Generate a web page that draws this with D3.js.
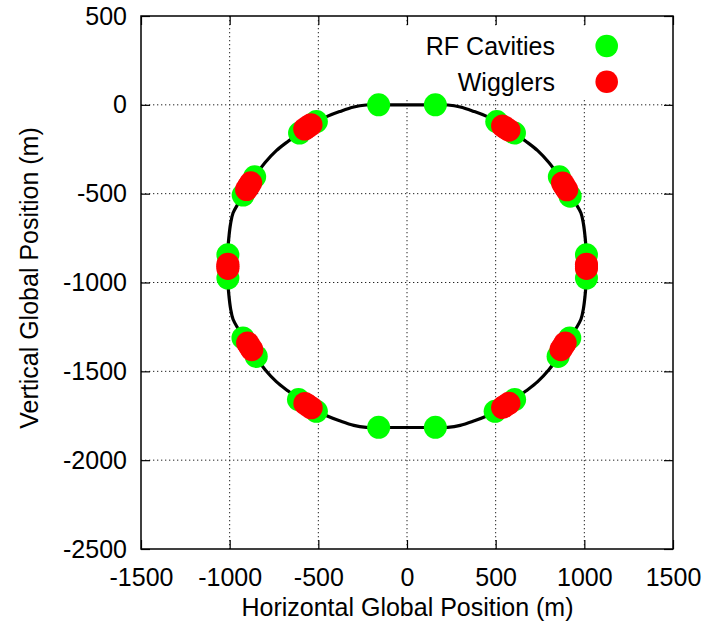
<!DOCTYPE html>
<html>
<head>
<meta charset="utf-8">
<script src="https://cdn.jsdelivr.net/npm/d3@7"></script>
<style>
  html, body { margin: 0; padding: 0; background: #fff; }
  svg { display: block; font-family: "Liberation Sans", Arial, Helvetica, sans-serif; }
</style>
</head>
<body>
<svg id="chart" width="707" height="626"></svg>
<script>
// ---- data ----
const xTicks = [-1500, -1000, -500, 0, 500, 1000, 1500];
const yTicks = [500, 0, -500, -1000, -1500, -2000, -2500];
const gridX = [-1000, -500, 0, 500, 1000];
const gridY = [0, -500, -1000, -1500, -2000];

const rfX = [-160, 160, -160, 160,
  -606, -511, 606, 506,
  -859, -924, 859, 920,
  -1010, -1010, 1012, 1012,
  -925, -850, 918, 852,
  -612, -511, 607, 497];
const rfY = [0, 0, -1815, -1815,
  -159, -94, -159, -94,
  -405, -508, -405, -514,
  -844, -975, -844, -975,
  -1312, -1416, -1312, -1416,
  -1659, -1725, -1659, -1725];

const wigX = [-577, -559, -541, 539, 557, 575,
  -905, -893, -881, 877, 889, 901,
  -1010, -1010, -1010, 1012, 1012, 1012,
  -899, -887, -875, 892, 880, 868,
  -576, -558, -540, 575, 557, 539];
const wigY = [-136, -124, -112, -119, -131, -143,
  -477, -458, -439, -440, -459, -478,
  -897, -909, -921, -897, -909, -921,
  -1340, -1359, -1378, -1340, -1359, -1378,
  -1681, -1693, -1705, -1680, -1692, -1704];

const ring = [
  [0,0],[-160,0],[-230,-1],[-300,-12],[-380,-38],[-450,-65],[-511,-94],[-560,-124],[-606,-159],
  [-670,-205],[-737,-258],[-800,-325],[-859,-405],[-893,-458],[-924,-508],[-950,-552],[-981,-609],
  [-995,-670],[-1004,-741],[-1009,-800],[-1010,-844],[-1011,-908],
  [-1010,-972],[-1009,-1016],[-1004,-1075],[-995,-1146],[-981,-1207],[-950,-1264],[-924,-1308],
  [-893,-1358],[-859,-1411],[-800,-1491],[-737,-1558],[-670,-1611],[-606,-1657],[-560,-1692],
  [-511,-1722],[-450,-1751],[-380,-1778],[-300,-1804],[-230,-1815],[-160,-1816],[0,-1816],
  [160,-1816],[230,-1815],[300,-1804],[380,-1778],[450,-1751],[511,-1722],[560,-1692],[606,-1657],
  [670,-1611],[737,-1558],[800,-1491],[859,-1411],[893,-1358],[924,-1308],[950,-1264],[981,-1207],
  [995,-1146],[1004,-1075],[1009,-1016],[1010,-972],[1011,-908],
  [1010,-844],[1009,-800],[1004,-741],[995,-670],[981,-609],[950,-552],[924,-508],[893,-458],
  [859,-405],[800,-325],[737,-258],[670,-205],[606,-159],[560,-124],[511,-94],[450,-65],
  [380,-38],[300,-12],[230,-1],[160,0]
];

const seriesNames = ["RF Cavities", "Wigglers"];
const seriesColors = ["#00ff00", "#ff0000"];

// ---- layout ----
const L = 141, R = 673, T = 16, B = 549;
const x = d3.scaleLinear().domain([-1500, 1500]).range([L, R]);
const y = d3.scaleLinear().domain([-2500, 500]).range([B, T]);
const FS = 25;
const fmt = d => String(d);
const svg = d3.select("#chart");

// grid
const grid = svg.append("g").attr("stroke", "#222").attr("stroke-width", 1)
  .attr("stroke-dasharray", "1.3,2.7");
grid.selectAll(".gx").data(gridX).join("line")
  .attr("x1", d => x(d)).attr("x2", d => x(d)).attr("y1", T).attr("y2", B);
grid.selectAll(".gy").data(gridY).join("line")
  .attr("y1", d => y(d)).attr("y2", d => y(d)).attr("x1", L).attr("x2", R);

// legend background (hides grid)
svg.append("rect").attr("x", 398).attr("y", 28).attr("width", R - 398 - 1).attr("height", 72)
  .attr("fill", "#fff");

// axes
const tickLen = 9;
const gB = svg.append("g").attr("transform", `translate(0,${B})`)
  .call(d3.axisBottom(x).tickValues(xTicks).tickFormat(fmt).tickSizeInner(-tickLen).tickSizeOuter(0).tickPadding(19));
const gL = svg.append("g").attr("transform", `translate(${L},0)`)
  .call(d3.axisLeft(y).tickValues(yTicks).tickFormat(fmt).tickSizeInner(-tickLen).tickSizeOuter(0).tickPadding(14));
const gT = svg.append("g").attr("transform", `translate(0,${T})`)
  .call(d3.axisTop(x).tickValues(xTicks).tickSizeInner(-tickLen).tickSizeOuter(0).tickFormat(""));
const gR = svg.append("g").attr("transform", `translate(${R},0)`)
  .call(d3.axisRight(y).tickValues(yTicks).tickSizeInner(-tickLen).tickSizeOuter(0).tickFormat(""));
[gB, gL, gT, gR].forEach(g => {
  g.select(".domain").remove();
  g.selectAll("line").attr("stroke", "#000").attr("stroke-width", 1.2);
  g.selectAll("text").attr("font-size", FS).attr("fill", "#000")
    .attr("font-family", '"Liberation Sans", Arial, sans-serif');
});

// frame
svg.append("rect").attr("x", L).attr("y", T).attr("width", R - L).attr("height", B - T)
  .attr("fill", "none").attr("stroke", "#000").attr("stroke-width", 1.5);

// ring
const line = d3.line().x(d => x(d[0])).y(d => y(d[1])).curve(d3.curveCatmullRomClosed.alpha(0.5));
svg.append("path").datum(ring).attr("d", line).attr("fill", "none")
  .attr("stroke", "#000").attr("stroke-width", 3.2);

// points
const r = 11.5;
svg.append("g").selectAll("circle").data(rfX.map((v, i) => [v, rfY[i]])).join("circle")
  .attr("cx", d => x(d[0])).attr("cy", d => y(d[1])).attr("r", r).attr("fill", seriesColors[0]);
svg.append("g").selectAll("circle").data(wigX.map((v, i) => [v, wigY[i]])).join("circle")
  .attr("cx", d => x(d[0])).attr("cy", d => y(d[1])).attr("r", r).attr("fill", seriesColors[1]);

// legend
const lg = svg.append("g");
[46, 81.7].forEach((cy, i) => {
  lg.append("text").attr("x", 555).attr("y", cy + 9).attr("text-anchor", "end")
    .attr("font-size", FS).attr("fill", "#000").text(seriesNames[i]);
  lg.append("circle").attr("cx", 606.7).attr("cy", cy).attr("r", 11.3).attr("fill", seriesColors[i]);
});

// axis titles
svg.append("text").attr("x", 407.5).attr("y", 616).attr("text-anchor", "middle")
  .attr("font-size", FS).attr("fill", "#000").text("Horizontal Global Position (m)");
svg.append("text").attr("transform", "translate(38,278) rotate(-90)").attr("text-anchor", "middle")
  .attr("font-size", FS).attr("fill", "#000").text("Vertical Global Position (m)");
</script>
</body>
</html>
